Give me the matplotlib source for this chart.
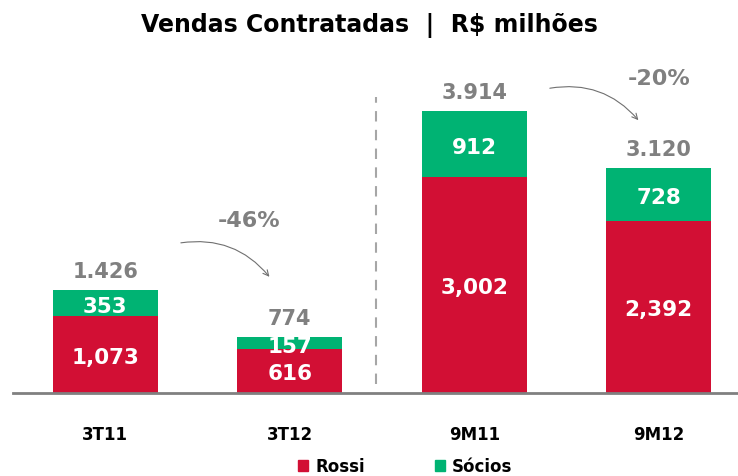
import matplotlib
matplotlib.use("Agg")
import matplotlib.pyplot as plt
from matplotlib.patches import Patch

categories = ["3T11", "3T12", "9M11", "9M12"]
rossi = [1073, 616, 3002, 2392]
socios = [353, 157, 912, 728]
totals = [1426, 774, 3914, 3120]
rossi_labels = ["1,073", "616", "3,002", "2,392"]
socios_labels = ["353", "157", "912", "728"]
total_labels = ["1.426", "774", "3.914", "3.120"]
changes = ["-46%", "-20%"]

RED = "#D20F34"
GREEN = "#00B373"
GRAY = "#808080"

plt.rcParams["font.family"] = ["DejaVu Sans"]
fig = plt.figure(figsize=(7.38, 4.77), dpi=100)
ax = fig.add_axes([13/738, 1 - 394/477, 1 - 13/738, 334/477])
x = list(range(len(categories)))
w = 0.57
ax.bar(x, rossi, width=w, color=RED, zorder=2)
ax.bar(x, socios, width=w, bottom=rossi, color=GREEN, zorder=2)
ax.set_xlim(-0.50, 3.43)
ax.set_ylim(0, 4640)
for s in ["top", "right", "left"]:
    ax.spines[s].set_visible(False)
ax.spines["bottom"].set_color(GRAY)
ax.spines["bottom"].set_linewidth(2)
ax.set_yticks([])
ax.set_xticks(x)
ax.set_xticklabels(categories, fontsize=12, fontweight="bold")
ax.tick_params(axis="x", length=0, pad=23)

for i in x:
    ax.text(i, rossi[i] / 2 - 35, rossi_labels[i], ha="center", va="center",
            color="white", fontsize=15.5, fontweight="bold", zorder=3)
    ax.text(i, rossi[i] + socios[i] / 2 - 35, socios_labels[i], ha="center", va="center",
            color="white", fontsize=15.5, fontweight="bold", zorder=3)
    ax.annotate(total_labels[i], (i, totals[i]), xytext=(0, 7), textcoords="offset points",
                ha="center", va="bottom", color=GRAY, fontsize=15, fontweight="bold")

# divider
ax.plot([1.465, 1.465], [130, 4110], color="#A6A6A6", lw=1.5, ls=(0, (5, 4)), zorder=1)

# change arrows
for k, (a, b) in enumerate([(0, 1), (2, 3)]):
    y0 = totals[a] + 660 if k == 0 else totals[a] + 320
    y1 = totals[b] + 840 if k == 0 else totals[b] + 670
    ax.annotate("", xy=(b - 0.11, y1), xytext=(a + 0.41, y0),
                arrowprops=dict(arrowstyle="->", color="#707070", lw=0.8,
                                connectionstyle="arc3,rad=-0.28", shrinkA=0, shrinkB=0))
ax.text(0.78, 2400, changes[0], ha="center", va="center", color=GRAY,
        fontsize=16, fontweight="bold")
ax.text(3.0, 4375, changes[1], ha="center", va="center", color=GRAY,
        fontsize=16, fontweight="bold")

fig.text(0.5, 1 - 25/477, "Vendas Contratadas  |  R$ milhões", ha="center", va="center",
         fontsize=17, fontweight="bold")

handles = [Patch(color=RED, label="Rossi"), Patch(color=GREEN, label="Sócios")]
fig.legend(handles=handles, loc="center", bbox_to_anchor=(405/738, 1 - 467/477), ncol=2,
           frameon=False, prop=dict(size=12, weight="bold"), handlelength=0.65,
           handleheight=0.65, handletextpad=0.4, columnspacing=4.2)

fig.savefig("out.png", dpi=100)
